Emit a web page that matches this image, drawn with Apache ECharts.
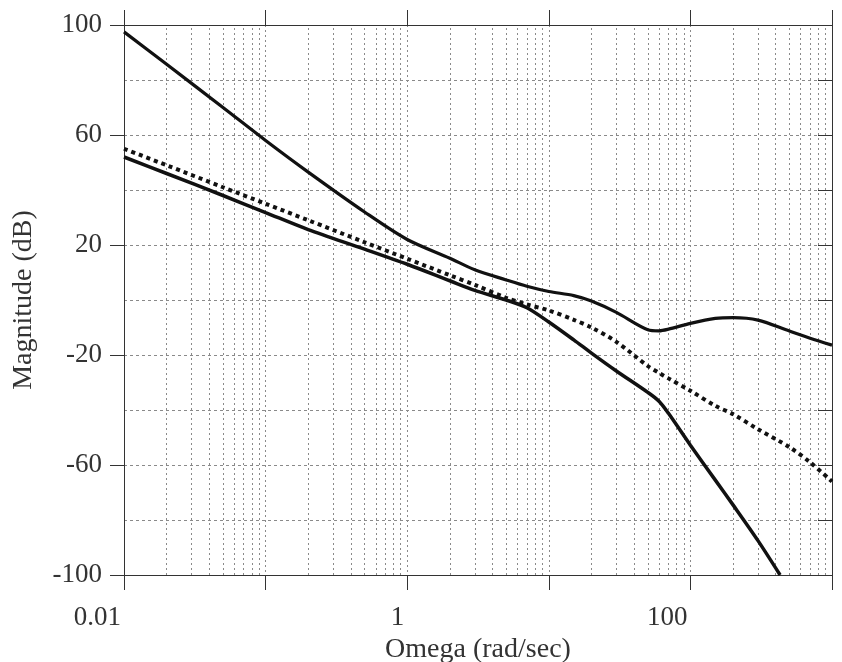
<!DOCTYPE html>
<html>
<head>
<meta charset="utf-8">
<script src="https://cdn.jsdelivr.net/npm/echarts@6/dist/echarts.min.js"></script>
<style>
html,body{margin:0;padding:0;background:#fff;}
#chart{width:842px;height:662px;}
</style>
</head>
<body>
<div id="chart"></div>
<script>
// Frequencies (rad/sec) at which values were read
var omega = [0.01, 0.02, 0.05, 0.1, 0.2, 0.5, 1, 2, 3, 5, 7, 10, 15, 20, 30, 50, 60, 70, 100, 150, 200, 300, 500, 700, 1000];
// Upper solid curve (dB)
var upperDb = [97.5, 85.7, 70, 58, 46.5, 32, 22, 15.2, 11, 7.3, 5, 3.1, 1.6, -0.4, -4.5, -10.8, -11.2, -10.6, -8.5, -6.7, -6.4, -7.3, -11.3, -13.9, -16.4];
// Middle dotted curve (dB)
var middleDb = [55, 49, 41, 35, 29, 21, 15, 9, 5.5, 0.8, -1.6, -3.8, -7.2, -10, -15.2, -24, -26.5, -28.5, -33, -38.5, -41.5, -47, -53.5, -59, -66];
// Lower solid curve (dB); ends where it leaves the plot at -100 dB
var lowerOmega = [0.01, 0.02, 0.05, 0.1, 0.2, 0.5, 1, 2, 3, 5, 7, 10, 15, 20, 30, 50, 60, 70, 100, 150, 200, 300, 430];
var lowerDb = [52, 46, 38, 31.8, 25.6, 18.5, 13, 7, 3.5, 0, -2.8, -8, -14.5, -19.3, -25.8, -33.6, -36.8, -41.2, -52.8, -65.5, -74.5, -87.5, -100];

// Axis tick labels
var xTickLabels = ['0.01', '1', '100'];
var yMin = -100, yMax = 100, yLabelStep = 40;
// Minor vertical grid positions (2..9 within each decade)
var minorGridOmega = [];
[0.01, 0.1, 1, 10, 100].forEach(function (d) {
  for (var k = 2; k <= 9; k++) minorGridOmega.push(+(d * k).toPrecision(3));
});

function pairs(xs, ys) { return xs.map(function (x, i) { return [x, ys[i]]; }); }

var FONT = 'Liberation Serif';
var gridStyleV = { color: '#8a8a8a', width: 1, type: [2, 3] };
var gridStyleH = { color: '#8a8a8a', width: 1, type: [3, 3] };
var axisLineStyle = { color: '#333', width: 1 };

var chart = echarts.init(document.getElementById('chart'), null, { renderer: 'canvas' });
chart.setOption({
  animation: false,
  backgroundColor: '#fff',
  grid: { left: 124, right: 10, top: 25, bottom: 87, containLabel: false, outerBoundsMode: 'none' },
  xAxis: [{
    type: 'log', logBase: 10, min: 0.01, max: 1000, position: 'bottom',
    name: 'Omega (rad/sec)', nameLocation: 'middle', nameGap: 55,
    nameTextStyle: { fontFamily: FONT, fontSize: 28, color: '#333' },
    axisLine: { show: true, onZero: false, lineStyle: axisLineStyle },
    axisTick: { show: true, inside: false, length: 15, lineStyle: axisLineStyle },
    axisLabel: {
      fontFamily: FONT, fontSize: 27, color: '#333', margin: 29, align: 'right',
      padding: [0, 3, 0, 0],
      formatter: function (v) {
        var s = Math.round(Math.log10(v));
        var lbl = s === -2 ? '0.01' : (s === 0 ? '1' : (s === 2 ? '100' : ''));
        return xTickLabels.indexOf(lbl) >= 0 ? lbl : '';
      }
    },
    splitLine: { show: true, lineStyle: gridStyleV },
    minorTick: { show: false }, minorSplitLine: { show: false }
  }, {
    type: 'log', logBase: 10, min: 0.01, max: 1000, position: 'top',
    axisLine: { show: true, onZero: false, lineStyle: axisLineStyle },
    axisTick: { show: true, inside: false, length: 15, lineStyle: axisLineStyle },
    axisLabel: { show: false },
    splitLine: { show: false }
  }],
  yAxis: [{
    type: 'value', min: yMin, max: yMax, interval: yLabelStep, position: 'left',
    name: 'Magnitude (dB)', nameLocation: 'middle', nameGap: 86,
    nameTextStyle: { fontFamily: FONT, fontSize: 28, color: '#333' },
    axisLine: { show: true, onZero: false, lineStyle: axisLineStyle },
    axisTick: { show: true, inside: false, length: 14, lineStyle: axisLineStyle },
    axisLabel: { fontFamily: FONT, fontSize: 27, color: '#333', margin: 22 },
    splitLine: { show: true, lineStyle: gridStyleH },
    minorTick: { show: false, splitNumber: 2 },
    minorSplitLine: { show: true, lineStyle: gridStyleH }
  }, {
    type: 'value', min: yMin, max: yMax, interval: 20, position: 'right',
    axisLine: { show: true, onZero: false, lineStyle: axisLineStyle },
    axisTick: { show: true, inside: true, length: 14, lineStyle: axisLineStyle },
    axisLabel: { show: false },
    splitLine: { show: false }
  }],
  series: [{
    name: 'upper', type: 'line', xAxisIndex: 0, yAxisIndex: 0, z: 5,
    data: pairs(omega, upperDb), showSymbol: false, symbol: 'none', smooth: 0.3,
    lineStyle: { color: '#111', width: 3.2, type: 'solid' },
    markLine: {
      silent: true, symbol: ['none', 'none'], z: 1, animation: false,
      label: { show: false }, emphasis: { disabled: true },
      lineStyle: gridStyleV,
      data: minorGridOmega.map(function (v) { return { xAxis: v }; })
    }
  }, {
    name: 'middle', type: 'line', xAxisIndex: 0, yAxisIndex: 0, z: 5,
    data: pairs(omega, middleDb), showSymbol: false, symbol: 'none', smooth: 0.3,
    lineStyle: { color: '#111', width: 4, type: [4, 4], cap: 'butt' }
  }, {
    name: 'lower', type: 'line', xAxisIndex: 0, yAxisIndex: 0, z: 5,
    data: pairs(lowerOmega, lowerDb), showSymbol: false, symbol: 'none', smooth: 0.3,
    lineStyle: { color: '#111', width: 3.5, type: 'solid' }
  }]
});
</script>
</body>
</html>
